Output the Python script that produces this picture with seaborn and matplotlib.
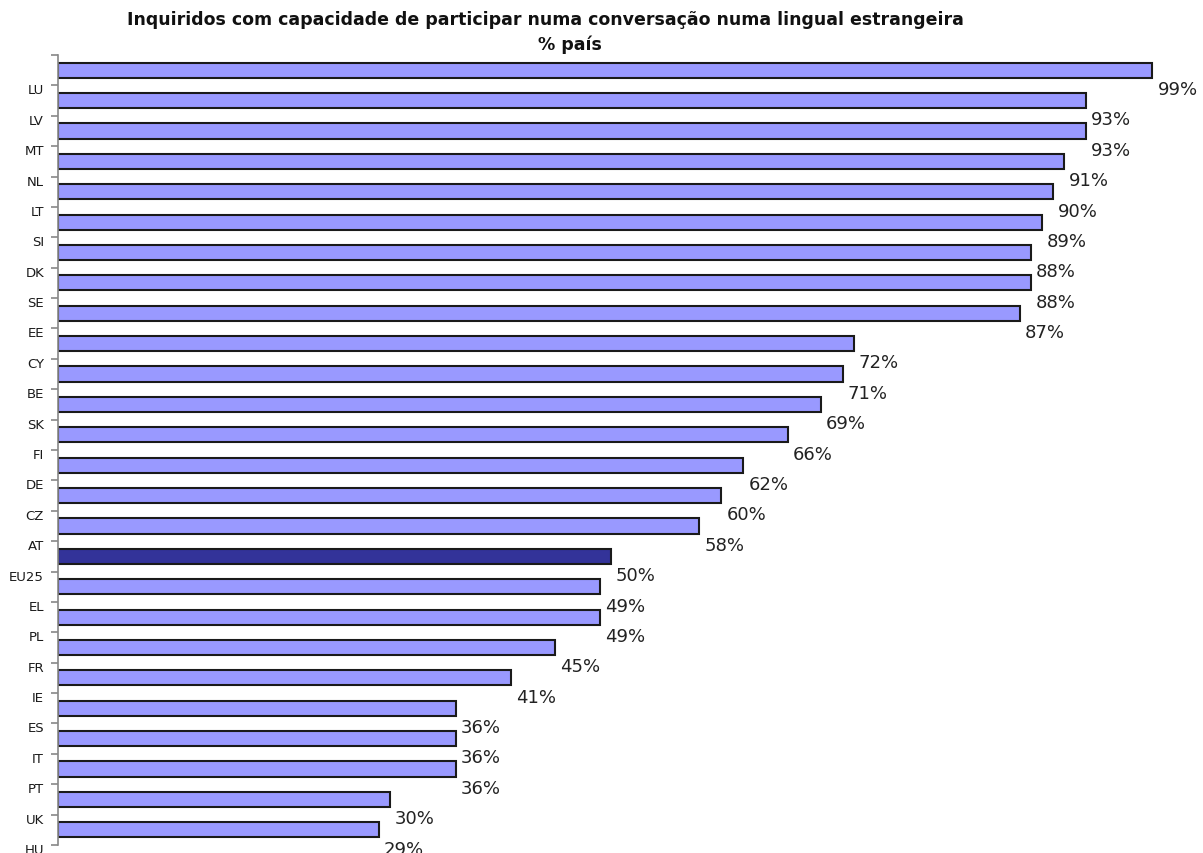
import matplotlib
matplotlib.use("Agg")
import matplotlib.pyplot as plt
import matplotlib.transforms as mtransforms
import seaborn as sns
import numpy as np

countries = ["LU", "LV", "MT", "NL", "LT", "SI", "DK", "SE", "EE", "CY", "BE", "SK", "FI",
             "DE", "CZ", "AT", "EU25", "EL", "PL", "FR", "IE", "ES", "IT", "PT", "UK", "HU"]
values = [99, 93, 93, 91, 90, 89, 88, 88, 87, 72, 71, 69, 66, 62, 60, 58, 50, 49, 49, 45,
          41, 36, 36, 36, 30, 29]
highlight = "EU25"
title_line1 = "Inquiridos com capacidade de participar numa conversação numa lingual estrangeira"
title_line2 = "% país"

sns.set_theme(style="white")
plt.rcParams['font.family'] = ['DejaVu Sans']

fig = plt.figure(figsize=(12.03, 8.54), dpi=100)
ax = fig.add_axes([58/1203, 1 - 846/854, (1200-58)/1203, (846-56)/854])

palette = {c: ("#333399" if c == highlight else "#9999FF") for c in countries}
sns.barplot(x=values, y=countries, hue=countries, palette=palette, legend=False,
            orient="h", width=0.5, edgecolor="#1a1a1a", linewidth=1.5, saturation=1, ax=ax)

n = len(countries)
ax.set_ylim(n - 0.5, -0.5)
ax.set_xlim(0, 103.3)

ticks = [-0.5] + [i + 0.5 for i in range(n)]
ax.set_yticks(ticks)
ax.set_yticklabels([""] + countries, fontsize=9.5, color="#1a1a1a")
ax.tick_params(axis="y", which="both", left=True, length=5, width=1.2, color="#888888", pad=5)
offset = mtransforms.ScaledTranslation(0, -3/100, fig.dpi_scale_trans)
for lbl in ax.get_yticklabels():
    lbl.set_transform(lbl.get_transform() + offset)
ax.set_xticks([])
ax.set_xlabel("")
ax.set_ylabel("")

for s in ["top", "right", "bottom"]:
    ax.spines[s].set_visible(False)
ax.spines["left"].set_color("#888888")
ax.spines["left"].set_linewidth(1.2)

for i, v in enumerate(values):
    ax.text(v + 0.45, i + 0.62, f"{v}%", fontsize=13, color="#222222",
            va="center", ha="left", clip_on=False)

fig.text(545/1203, 1 - 20/854, title_line1, ha="center", va="center",
         fontsize=12.5, fontweight="bold", color="#111111")
fig.text(570/1203, 1 - 45/854, title_line2, ha="center", va="center",
         fontsize=12.5, fontweight="bold", color="#111111")

fig.savefig("out.png", dpi=100)
